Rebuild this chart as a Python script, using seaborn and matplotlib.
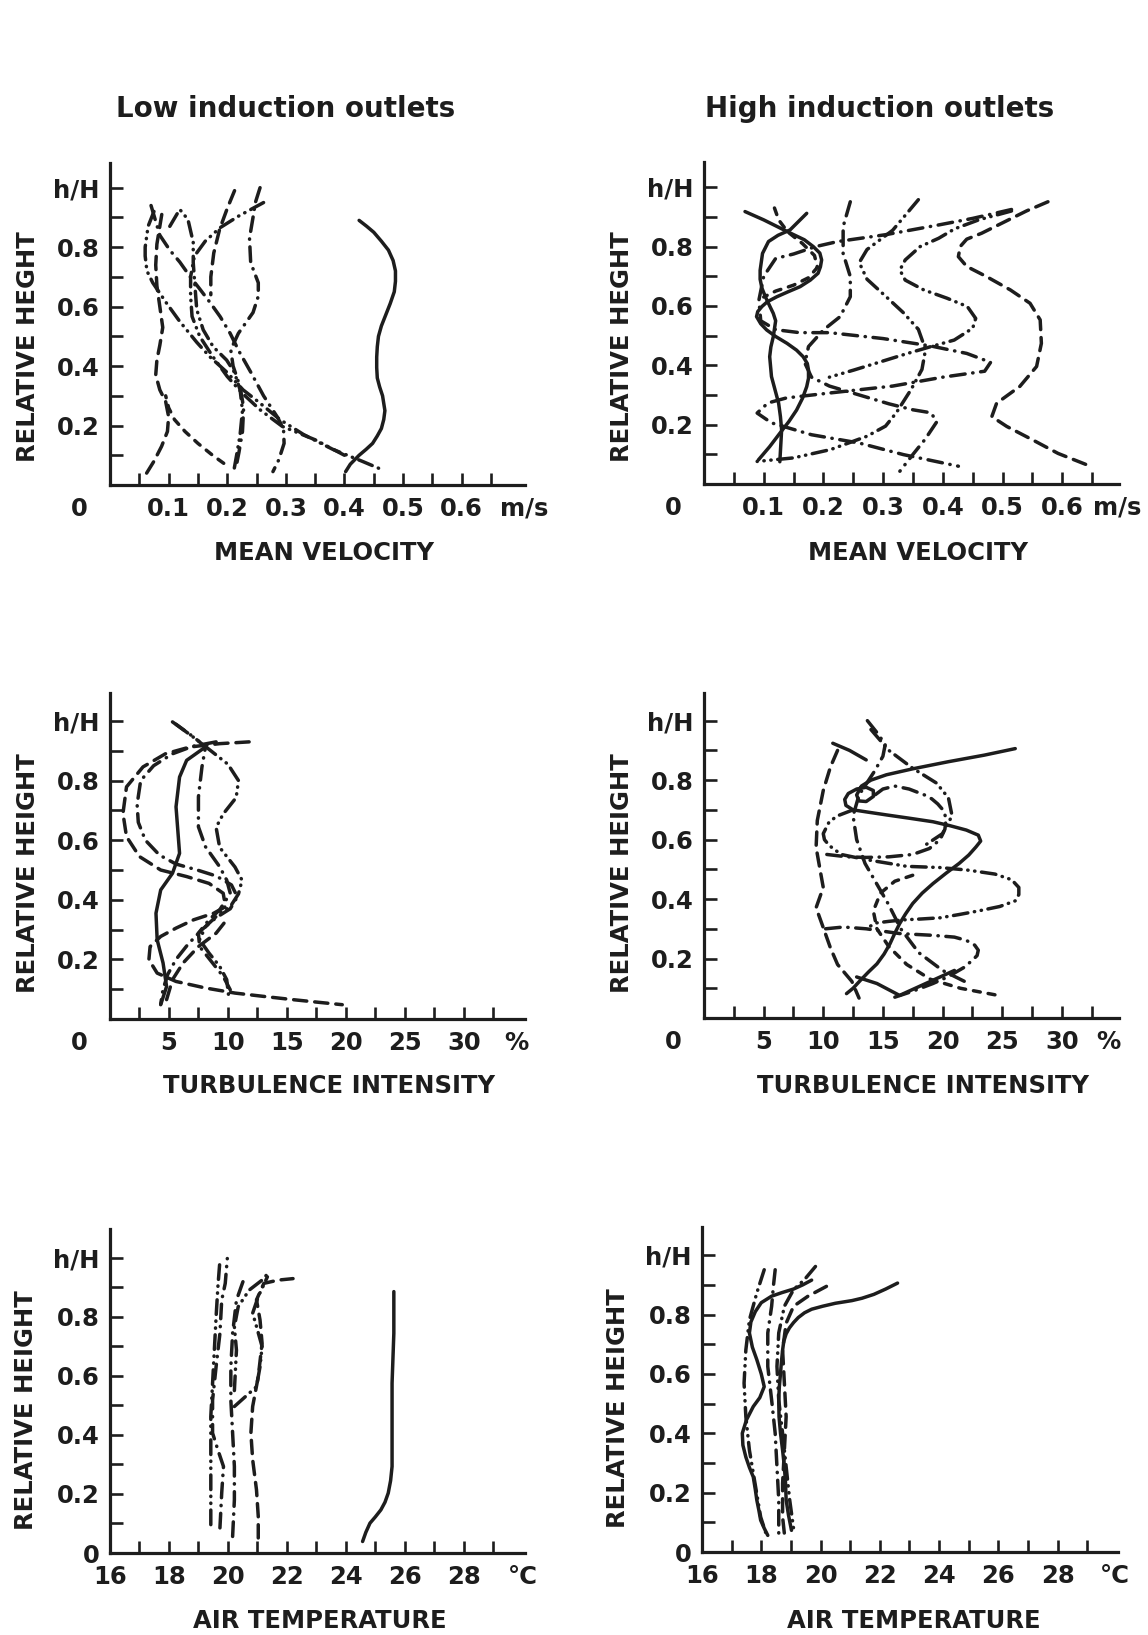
import matplotlib
matplotlib.use("Agg")
import matplotlib.pyplot as plt
import seaborn as sns
import numpy as np

# ---------------- data ----------------
H_TICKS = [0.2, 0.4, 0.6, 0.8, 1.0]
H_LABELS = ["0.2", "0.4", "0.6", "0.8", "h/H"]
H_TICKS_T = [0.0, 0.2, 0.4, 0.6, 0.8, 1.0]
H_LABELS_T = ["0", "0.2", "0.4", "0.6", "0.8", "h/H"]
H_MINOR = [0.1, 0.3, 0.5, 0.7, 0.9]

VEL_TICKS = [0.1, 0.2, 0.3, 0.4, 0.5, 0.6]
VEL_LABELS = ["0.1", "0.2", "0.3", "0.4", "0.5", "0.6"]
VEL_MINOR = [0.05, 0.15, 0.25, 0.35, 0.45, 0.55, 0.65]
TURB_TICKS = [5, 10, 15, 20, 25, 30]
TURB_LABELS = ["5", "10", "15", "20", "25", "30"]
TURB_MINOR = [2.5, 7.5, 12.5, 17.5, 22.5, 27.5, 32.5]
TEMP_TICKS = [16, 18, 20, 22, 24, 26, 28]
TEMP_LABELS = ["16", "18", "20", "22", "24", "26", "28"]
TEMP_MINOR = [17, 19, 21, 23, 25, 27, 29]

# Panel 1: low induction, mean velocity (m/s) vs h/H
p1_a_v = [0.425, 0.438, 0.45, 0.463, 0.475, 0.483, 0.487, 0.487, 0.485, 0.478, 0.47, 0.463, 0.458, 0.456, 0.455, 0.455, 0.456, 0.46, 0.465, 0.469, 0.467, 0.463, 0.456, 0.448, 0.437, 0.425, 0.41, 0.402]
p1_a_h = [0.89, 0.87, 0.85, 0.82, 0.79, 0.755, 0.72, 0.685, 0.65, 0.61, 0.57, 0.535, 0.50, 0.465, 0.43, 0.395, 0.36, 0.33, 0.30, 0.25, 0.22, 0.19, 0.165, 0.14, 0.12, 0.10, 0.07, 0.045]
p1_b_v = [0.0625, 0.075, 0.088, 0.098, 0.1, 0.095, 0.085, 0.078, 0.08, 0.085, 0.09, 0.085, 0.08, 0.078, 0.08, 0.085, 0.09]
p1_b_h = [0.04, 0.08, 0.13, 0.18, 0.23, 0.28, 0.32, 0.37, 0.42, 0.47, 0.53, 0.60, 0.67, 0.74, 0.81, 0.87, 0.93]
p1_c_v = [0.194, 0.175, 0.15, 0.128, 0.11, 0.1, 0.095]
p1_c_h = [0.073, 0.10, 0.14, 0.18, 0.22, 0.26, 0.30]
p1_d_v = [0.075, 0.065, 0.06, 0.06, 0.063, 0.073, 0.097, 0.119, 0.148, 0.171, 0.199, 0.227, 0.253, 0.29, 0.33, 0.38, 0.43, 0.466]
p1_d_h = [0.92, 0.87, 0.80, 0.77, 0.72, 0.68, 0.61, 0.55, 0.48, 0.43, 0.38, 0.32, 0.28, 0.22, 0.17, 0.12, 0.08, 0.05]
p1_e_v = [0.07, 0.085, 0.102, 0.119, 0.137, 0.154, 0.171, 0.188, 0.205, 0.22, 0.24, 0.262, 0.285, 0.296, 0.297, 0.288, 0.278]
p1_e_h = [0.94, 0.84, 0.79, 0.75, 0.70, 0.657, 0.613, 0.566, 0.51, 0.45, 0.38, 0.30, 0.23, 0.19, 0.14, 0.085, 0.045]
p1_f_v = [0.102, 0.119, 0.133, 0.142, 0.142, 0.145, 0.148, 0.159, 0.176, 0.199, 0.212, 0.222, 0.226, 0.222, 0.216, 0.212]
p1_f_h = [0.87, 0.927, 0.893, 0.816, 0.748, 0.667, 0.59, 0.522, 0.465, 0.42, 0.38, 0.32, 0.25, 0.17, 0.10, 0.056]
p1_g_v = [0.256, 0.248, 0.244, 0.238, 0.24, 0.253, 0.253, 0.244, 0.219, 0.206, 0.21, 0.222, 0.228, 0.226, 0.22, 0.215]
p1_g_h = [1.0, 0.95, 0.90, 0.83, 0.748, 0.68, 0.635, 0.58, 0.51, 0.455, 0.40, 0.33, 0.26, 0.18, 0.11, 0.06]
p1_h_v = [0.262, 0.219, 0.1875, 0.1625, 0.144, 0.1375, 0.1375, 0.14, 0.153, 0.175, 0.2, 0.225, 0.256, 0.294, 0.35, 0.40]
p1_h_h = [0.95, 0.904, 0.865, 0.82, 0.77, 0.70, 0.635, 0.567, 0.50, 0.433, 0.365, 0.31, 0.253, 0.197, 0.152, 0.10]
p1_i_v = [0.2125, 0.20, 0.187, 0.177, 0.172, 0.172]
p1_i_h = [0.99, 0.93, 0.86, 0.78, 0.70, 0.64]

# Panel 2: high induction, mean velocity
p2_a_v = [0.576, 0.54, 0.50, 0.465, 0.44, 0.429, 0.426, 0.44, 0.473, 0.513, 0.546, 0.563, 0.565, 0.557, 0.529, 0.49, 0.482, 0.507, 0.551, 0.593, 0.647]
p2_a_h = [0.951, 0.92, 0.88, 0.845, 0.825, 0.80, 0.766, 0.733, 0.699, 0.654, 0.609, 0.553, 0.474, 0.396, 0.329, 0.272, 0.227, 0.194, 0.148, 0.103, 0.06]
p2_b_v = [0.515, 0.46, 0.42, 0.393, 0.362, 0.337, 0.328, 0.337, 0.368, 0.407, 0.441, 0.455, 0.45, 0.419, 0.38, 0.341, 0.296, 0.251, 0.21]
p2_b_h = [0.92, 0.89, 0.86, 0.828, 0.80, 0.755, 0.721, 0.687, 0.654, 0.626, 0.598, 0.558, 0.525, 0.485, 0.463, 0.44, 0.412, 0.384, 0.36]
p2_c_v = [0.359, 0.316, 0.273, 0.26, 0.273, 0.304, 0.334, 0.359, 0.371, 0.365, 0.347, 0.322, 0.304, 0.273, 0.212, 0.15, 0.089]
p2_c_h = [0.958, 0.855, 0.79, 0.746, 0.69, 0.633, 0.577, 0.521, 0.453, 0.386, 0.319, 0.24, 0.195, 0.161, 0.116, 0.088, 0.076]
p2_d_v = [0.515, 0.45, 0.396, 0.304, 0.224, 0.187, 0.15, 0.12, 0.10, 0.092, 0.095, 0.12, 0.16, 0.21, 0.30, 0.38, 0.44, 0.48, 0.47, 0.40, 0.316, 0.212, 0.138, 0.107, 0.089, 0.113, 0.18, 0.26, 0.334, 0.426]
p2_d_h = [0.925, 0.895, 0.874, 0.84, 0.817, 0.80, 0.775, 0.76, 0.70, 0.62, 0.55, 0.52, 0.51, 0.51, 0.49, 0.465, 0.44, 0.41, 0.38, 0.36, 0.33, 0.307, 0.29, 0.273, 0.239, 0.206, 0.166, 0.138, 0.099, 0.06]
p2_e_v = [0.0687, 0.10, 0.144, 0.168, 0.183, 0.194, 0.197, 0.195, 0.191, 0.178, 0.161, 0.14, 0.122, 0.106, 0.097, 0.09, 0.088, 0.095, 0.105, 0.12, 0.139, 0.155, 0.166, 0.173, 0.175, 0.175, 0.172, 0.165, 0.155, 0.142, 0.127, 0.11, 0.091]
p2_e_h = [0.918, 0.89, 0.846, 0.823, 0.80, 0.778, 0.755, 0.732, 0.71, 0.687, 0.665, 0.647, 0.631, 0.614, 0.598, 0.581, 0.564, 0.54, 0.519, 0.497, 0.474, 0.451, 0.429, 0.406, 0.384, 0.356, 0.328, 0.289, 0.249, 0.21, 0.171, 0.126, 0.081]
p2_f_v = [0.127, 0.13, 0.128, 0.125, 0.119, 0.113, 0.11, 0.112, 0.116, 0.12, 0.116, 0.11, 0.103, 0.097, 0.094, 0.094, 0.098, 0.108, 0.124, 0.144, 0.158, 0.172]
p2_f_h = [0.075, 0.182, 0.227, 0.272, 0.317, 0.362, 0.429, 0.462, 0.496, 0.55, 0.575, 0.60, 0.63, 0.66, 0.69, 0.72, 0.777, 0.817, 0.838, 0.856, 0.884, 0.912]
p2_g_v = [0.245, 0.233, 0.233, 0.245, 0.245, 0.228, 0.2, 0.175, 0.169, 0.18, 0.21, 0.26, 0.31, 0.35, 0.38, 0.39, 0.37, 0.35, 0.328]
p2_g_h = [0.951, 0.867, 0.777, 0.699, 0.631, 0.564, 0.519, 0.463, 0.407, 0.36, 0.33, 0.30, 0.27, 0.25, 0.24, 0.21, 0.15, 0.10, 0.043]
p2_h_v = [0.118, 0.125, 0.14, 0.165, 0.185, 0.19, 0.175, 0.15, 0.12, 0.1]
p2_h_h = [0.93, 0.89, 0.85, 0.81, 0.77, 0.73, 0.695, 0.67, 0.65, 0.63]

# Panel 3: low induction, turbulence intensity (%)
p3_a_t = [11.8, 9.3, 6.8, 4.7, 2.8, 1.4, 1.1, 1.4, 2.5, 4.3, 6.5, 8.4, 9.6, 9.8, 8.8, 7.1, 5.6, 4.3, 3.4, 3.3, 4.0, 5.6, 8.1, 10.6, 13.0, 15.5, 17.7, 19.7]
p3_a_h = [0.93, 0.924, 0.913, 0.89, 0.846, 0.779, 0.69, 0.612, 0.545, 0.50, 0.478, 0.455, 0.422, 0.377, 0.355, 0.333, 0.305, 0.277, 0.243, 0.199, 0.154, 0.126, 0.104, 0.087, 0.076, 0.065, 0.056, 0.048]
p3_b_t = [9.0, 7.0, 5.3, 3.7, 2.6, 2.3, 2.4, 3.0, 4.2, 5.6, 7.4, 9.0, 10.3, 10.8, 10.2, 9.0, 7.8, 6.6, 5.6, 4.9, 4.5, 4.3]
p3_b_h = [0.93, 0.915, 0.89, 0.85, 0.80, 0.72, 0.66, 0.60, 0.55, 0.52, 0.50, 0.48, 0.45, 0.41, 0.37, 0.34, 0.30, 0.25, 0.20, 0.15, 0.10, 0.05]
p3_c_t = [8.1, 6.5, 5.9, 5.6, 5.75, 5.9, 5.3, 4.3, 3.9, 4.0, 4.5, 4.8, 4.3]
p3_c_h = [0.913, 0.868, 0.812, 0.712, 0.634, 0.556, 0.489, 0.433, 0.355, 0.266, 0.188, 0.109, 0.048]
p3_d_t = [5.6, 7.5, 10.0, 10.9, 10.7, 9.6, 9.0, 9.3, 10.6, 11.2, 10.9, 10.2, 9.3, 8.1, 7.6, 8.4, 9.3, 9.9, 10.1]
p3_d_h = [0.989, 0.933, 0.855, 0.80, 0.743, 0.688, 0.643, 0.576, 0.51, 0.466, 0.42, 0.377, 0.355, 0.31, 0.266, 0.221, 0.177, 0.132, 0.065]
p3_e_t = [5.3, 7.1, 8.1, 7.8, 7.5, 7.5, 8.1, 9.3, 9.9, 10.2, 9.3, 8.4, 7.5, 7.6, 8.7, 9.6, 10.2]
p3_e_h = [0.997, 0.946, 0.913, 0.846, 0.745, 0.645, 0.578, 0.511, 0.466, 0.422, 0.366, 0.333, 0.288, 0.243, 0.188, 0.143, 0.098]
p3_f_t = [4.8, 5.3, 6.2, 7.5, 9.0, 9.9]
p3_f_h = [0.065, 0.132, 0.188, 0.243, 0.288, 0.333]

# Panel 4: high induction, turbulence intensity (%)
p4_a_t = [11.95, 12.5, 13.1, 13.8, 14.5, 15.1, 15.6, 16.0, 16.4, 16.9, 17.5, 18.3, 19.2, 20.3, 21.4, 22.2, 22.8, 23.2, 23.0, 22.0, 20.6, 19.2, 17.2, 15.3, 13.8, 12.5, 11.9, 11.8, 12.1, 12.8, 13.6, 14.2, 14.2, 13.6, 13.0, 12.8, 13.2, 14.0, 15.3, 17.5, 20.5, 23.5, 26.1]
p4_a_h = [0.082, 0.10, 0.126, 0.155, 0.182, 0.215, 0.25, 0.285, 0.317, 0.35, 0.385, 0.42, 0.452, 0.487, 0.52, 0.548, 0.575, 0.595, 0.615, 0.632, 0.647, 0.66, 0.672, 0.683, 0.692, 0.70, 0.715, 0.735, 0.755, 0.77, 0.776, 0.765, 0.745, 0.728, 0.73, 0.75, 0.78, 0.80, 0.818, 0.838, 0.862, 0.884, 0.906]
p4_b_t = [12.5, 11.2, 10.5, 10.0, 10.1, 10.5, 11.5, 12.7, 14.0, 15.5, 17.0, 18.4, 19.8, 22.2, 24.4, 25.8, 26.4, 26.4, 26.1, 24.8, 23.0, 21.4, 19.8, 18.2, 16.7, 15.5, 14.5, 13.5]
p4_b_h = [0.70, 0.68, 0.66, 0.62, 0.60, 0.58, 0.55, 0.54, 0.53, 0.52, 0.51, 0.508, 0.506, 0.497, 0.484, 0.465, 0.439, 0.415, 0.394, 0.375, 0.36, 0.348, 0.337, 0.333, 0.33, 0.325, 0.32, 0.30]
p4_c_t = [10.2, 11.7, 13.6, 16.4, 19.2, 21.0, 22.0, 22.7, 23.0, 22.9, 22.5, 21.8, 20.9, 20.1, 19.2, 17.5, 16.0]
p4_c_h = [0.30, 0.306, 0.30, 0.284, 0.278, 0.272, 0.261, 0.245, 0.228, 0.21, 0.194, 0.17, 0.149, 0.132, 0.116, 0.09, 0.07]
p4_d_t = [10.3, 12.0, 13.6, 15.5, 17.5, 18.9, 19.8, 20.2, 20.3, 20.1, 19.6, 19.1, 18.5, 17.2, 16.0, 15.0, 14.0]
p4_d_h = [0.55, 0.542, 0.54, 0.542, 0.55, 0.57, 0.60, 0.635, 0.67, 0.697, 0.72, 0.737, 0.75, 0.77, 0.78, 0.77, 0.74]
p4_e_t = [11.2, 10.6, 10.0, 9.5, 9.4, 9.7, 10.0, 9.4, 10.0, 10.6, 11.2, 12.4, 13.0]
p4_e_h = [0.90, 0.844, 0.765, 0.664, 0.574, 0.506, 0.439, 0.371, 0.304, 0.236, 0.18, 0.123, 0.067]
p4_f_t = [14.0, 15.5, 17.5, 19.5, 20.5, 20.8, 20.0, 18.5]
p4_f_h = [0.97, 0.90, 0.84, 0.79, 0.74, 0.68, 0.62, 0.58]
p4_g_t = [13.7, 14.5, 15.2, 15.0, 14.3, 13.0, 12.5, 12.8, 13.5, 14.5, 15.5, 16.5, 18.0, 20.0, 22.0]
p4_g_h = [1.0, 0.96, 0.92, 0.88, 0.83, 0.75, 0.68, 0.60, 0.52, 0.45, 0.38, 0.30, 0.22, 0.16, 0.12]
p4_h_t = [17.5, 16.0, 14.8, 14.2, 14.5, 15.5, 17.0, 19.0, 21.5, 24.4]
p4_h_h = [0.48, 0.46, 0.42, 0.36, 0.30, 0.24, 0.18, 0.13, 0.10, 0.078]
p4_i_t = [10.8, 12.2, 13.6]
p4_i_h = [0.924, 0.90, 0.868]
p4_j_t = [12.8, 14.5, 16.4, 19.8, 21.0]
p4_j_h = [0.138, 0.116, 0.076, 0.138, 0.16]

# Panel 5: low induction, air temperature (deg C)
p5_a_c = [25.63, 25.63, 25.57, 25.57, 25.57, 25.52, 25.44, 25.33, 25.19, 25.0, 24.82, 24.68, 24.57]
p5_a_h = [0.885, 0.744, 0.575, 0.406, 0.293, 0.245, 0.203, 0.172, 0.146, 0.122, 0.101, 0.07, 0.039]
p5_b_c = [21.03, 21.03, 20.97, 20.84, 20.78, 20.84, 21.03, 21.16, 21.09, 20.97, 21.22, 21.71, 22.21]
p5_b_h = [0.051, 0.124, 0.214, 0.316, 0.406, 0.496, 0.597, 0.71, 0.789, 0.857, 0.913, 0.924, 0.929]
p5_c_c = [19.42, 19.42, 19.42, 19.42, 19.48, 19.54, 19.60, 19.66, 19.73]
p5_c_h = [0.096, 0.203, 0.315, 0.462, 0.575, 0.687, 0.80, 0.901, 0.991]
p5_d_c = [19.73, 19.79, 19.85, 19.66, 19.48, 19.48, 19.60, 19.73, 19.79, 19.91, 19.98]
p5_d_h = [0.085, 0.203, 0.293, 0.349, 0.406, 0.518, 0.631, 0.744, 0.856, 0.913, 0.997]
p5_e_c = [20.16, 20.22, 20.22, 20.16, 20.1, 20.1, 20.16, 20.29, 20.53]
p5_e_h = [0.056, 0.18, 0.293, 0.406, 0.518, 0.631, 0.744, 0.856, 0.924]
p5_f_c = [20.22, 20.6, 20.97, 21.09, 21.16, 20.97, 20.84, 21.03, 21.34]
p5_f_h = [0.496, 0.53, 0.563, 0.631, 0.699, 0.767, 0.812, 0.868, 0.935]
p5_g_c = [20.22, 20.29, 20.22, 20.35, 20.72, 21.16, 21.3]
p5_g_h = [0.55, 0.687, 0.766, 0.834, 0.89, 0.924, 0.94]

# Panel 6: high induction, air temperature
p6_a_c = [22.6, 22.2, 21.8, 21.4, 21.06, 20.5, 20.07, 19.7, 19.46, 19.25, 19.09, 18.95, 18.84, 18.76, 18.72, 18.68, 18.65, 18.61, 18.59, 18.6, 18.65, 18.72, 18.78, 18.82, 18.84, 18.92, 19.02]
p6_a_h = [0.906, 0.886, 0.868, 0.855, 0.847, 0.838, 0.828, 0.818, 0.806, 0.79, 0.773, 0.755, 0.735, 0.71, 0.68, 0.64, 0.602, 0.557, 0.512, 0.456, 0.40, 0.343, 0.287, 0.231, 0.175, 0.124, 0.073]
p6_b_c = [19.7, 19.4, 19.09, 18.7, 18.35, 18.0, 17.8, 17.65, 17.6, 17.7, 17.85, 18.0, 18.1, 17.95, 17.73, 17.5, 17.36, 17.38, 17.48, 17.6, 17.73, 17.8, 17.85, 17.92, 17.98, 18.1, 18.22]
p6_b_h = [0.916, 0.9, 0.886, 0.874, 0.862, 0.84, 0.81, 0.775, 0.738, 0.69, 0.648, 0.60, 0.557, 0.52, 0.49, 0.445, 0.40, 0.36, 0.32, 0.285, 0.253, 0.21, 0.175, 0.14, 0.107, 0.08, 0.056]
p6_c_c = [18.1, 17.85, 17.6, 17.48, 17.42, 17.48, 17.6, 17.79, 17.98, 18.16]
p6_c_h = [0.951, 0.873, 0.782, 0.681, 0.569, 0.456, 0.343, 0.231, 0.118, 0.062]
p6_d_c = [18.47, 18.41, 18.35, 18.22, 18.22, 18.35, 18.47, 18.53, 18.59, 18.59]
p6_d_h = [0.951, 0.896, 0.828, 0.738, 0.625, 0.512, 0.40, 0.287, 0.175, 0.062]
p6_e_c = [19.83, 19.46, 19.09, 18.78, 18.59, 18.53, 18.59, 18.72, 18.84, 18.96, 19.09]
p6_e_h = [0.962, 0.918, 0.884, 0.828, 0.738, 0.625, 0.512, 0.40, 0.287, 0.175, 0.079]
p6_f_c = [20.2, 19.58, 19.09, 18.84, 18.72, 18.78, 18.84, 18.78, 18.72, 18.72, 18.78]
p6_f_h = [0.895, 0.862, 0.828, 0.771, 0.681, 0.569, 0.456, 0.343, 0.231, 0.118, 0.062]

# ---------------- styling ----------------
sns.set_style("ticks")
plt.rcParams["font.family"] = ["DejaVu Sans"]
plt.rcParams["font.weight"] = "bold"

W, H = 1148, 1635
INK = "#1d1d1d"
LW = 2.5
TICK_FS = 17.5
LABEL_FS = 17.5
LS = {
    "solid": "-",
    "dash": (0, (3.8, 2.3)),
    "sdash": (0, (2.0, 2.3)),
    "dashdot": (0, (4.2, 2.2, 0.1, 2.2)),
    "dashdotdot": (0, (4.2, 1.9, 0.1, 1.9, 0.1, 1.9)),
}

fig = plt.figure(figsize=(W / 100, H / 100), dpi=100)
fig.patch.set_facecolor("white")


def px_axes(left, bottom, width, height):
    return fig.add_axes([left / W, 1 - bottom / H, width / W, height / H])


def style_axes(ax, xlim, ylim, xt, xl, xm, yt, yl, unit, unit_x, zero_x):
    ax.set_xlim(*xlim)
    ax.set_ylim(*ylim)
    ax.set_xticks(xt)
    ax.set_xticklabels(xl)
    ax.set_xticks(xm, minor=True)
    ax.set_yticks(yt)
    ax.set_yticklabels(yl)
    ax.set_yticks(H_MINOR, minor=True)
    for s in ["top", "right"]:
        ax.spines[s].set_visible(False)
    for s in ["left", "bottom"]:
        ax.spines[s].set_linewidth(2.3)
        ax.spines[s].set_color(INK)
    ax.tick_params(axis="both", which="both", direction="in", length=9,
                   width=1.9, color=INK, labelcolor=INK)
    ax.tick_params(axis="x", which="major", pad=8.5, labelsize=TICK_FS)
    ax.tick_params(axis="y", which="major", pad=7.5, labelsize=TICK_FS)
    for lab in ax.get_xticklabels() + ax.get_yticklabels():
        lab.set_fontweight("bold")
    ax.set_xlabel("")
    ax.set_ylabel("")
    ax.grid(False)
    ax.annotate(unit, xy=(unit_x, 0), xycoords=("data", "axes fraction"),
                xytext=(0, -11.8), textcoords="offset pixels",
                ha="center", va="top", fontsize=TICK_FS, fontweight="bold", color=INK)
    if zero_x is not None:
        ax.annotate("0", xy=(0, 0), xycoords="axes fraction",
                    xytext=(zero_x, -11.8), textcoords="offset pixels",
                    ha="center", va="top", fontsize=TICK_FS, fontweight="bold", color=INK)


def draw(ax, x, y, kind):
    sns.lineplot(x=x, y=y, ax=ax, sort=False, estimator=None, color=INK,
                 linewidth=LW, linestyle=LS[kind], dash_capstyle="round",
                 solid_capstyle="round", solid_joinstyle="round", legend=False)


# ---- Panel 1 ----
ax1 = px_axes(110, 485, 415, 322)
for x, y, k in [(p1_a_v, p1_a_h, "solid"), (p1_b_v, p1_b_h, "dash"), (p1_c_v, p1_c_h, "sdash"),
                (p1_d_v, p1_d_h, "dashdotdot"), (p1_e_v, p1_e_h, "dashdot"), (p1_f_v, p1_f_h, "dashdotdot"),
                (p1_g_v, p1_g_h, "dashdot"), (p1_h_v, p1_h_h, "dashdotdot"), (p1_i_v, p1_i_h, "dash")]:
    draw(ax1, x, y, k)
style_axes(ax1, (0, 0.708), (0, 1.083), VEL_TICKS, VEL_LABELS, VEL_MINOR,
           H_TICKS, H_LABELS, "m/s", 0.706, -31)

# ---- Panel 2 ----
ax2 = px_axes(704, 484, 415, 322)
for x, y, k in [(p2_a_v, p2_a_h, "dash"), (p2_b_v, p2_b_h, "dashdotdot"), (p2_c_v, p2_c_h, "dashdotdot"),
                (p2_d_v, p2_d_h, "dashdot"), (p2_e_v, p2_e_h, "solid"), (p2_f_v, p2_f_h, "solid"),
                (p2_g_v, p2_g_h, "dashdot"), (p2_h_v, p2_h_h, "sdash")]:
    draw(ax2, x, y, k)
style_axes(ax2, (0, 0.695), (0, 1.085), VEL_TICKS, VEL_LABELS, VEL_MINOR,
           H_TICKS, H_LABELS, "m/s", 0.692, -31)

# ---- Panel 3 ----
ax3 = px_axes(110, 1019, 415, 326)
for x, y, k in [(p3_a_t, p3_a_h, "dash"), (p3_b_t, p3_b_h, "dashdot"), (p3_c_t, p3_c_h, "solid"),
                (p3_d_t, p3_d_h, "dashdotdot"), (p3_e_t, p3_e_h, "dashdot"), (p3_f_t, p3_f_h, "dash")]:
    draw(ax3, x, y, k)
style_axes(ax3, (0, 35.2), (0, 1.094), TURB_TICKS, TURB_LABELS, TURB_MINOR,
           H_TICKS, H_LABELS, "%", 34.5, -31)

# ---- Panel 4 ----
ax4 = px_axes(704, 1018, 415, 325)
for x, y, k in [(p4_a_t, p4_a_h, "solid"), (p4_b_t, p4_b_h, "dashdotdot"), (p4_c_t, p4_c_h, "dashdot"),
                (p4_d_t, p4_d_h, "dashdot"), (p4_e_t, p4_e_h, "dash"), (p4_f_t, p4_f_h, "dashdotdot"),
                (p4_g_t, p4_g_h, "dashdot"), (p4_h_t, p4_h_h, "sdash"), (p4_i_t, p4_i_h, "solid"),
                (p4_j_t, p4_j_h, "solid")]:
    draw(ax4, x, y, k)
style_axes(ax4, (0, 34.8), (0, 1.093), TURB_TICKS, TURB_LABELS, TURB_MINOR,
           H_TICKS, H_LABELS, "%", 33.9, -31)

# ---- Panel 5 ----
ax5 = px_axes(110, 1553, 415, 324)
for x, y, k in [(p5_a_c, p5_a_h, "solid"), (p5_b_c, p5_b_h, "dash"), (p5_c_c, p5_c_h, "dashdotdot"),
                (p5_d_c, p5_d_h, "dashdot"), (p5_e_c, p5_e_h, "dashdot"), (p5_f_c, p5_f_h, "dashdotdot"),
                (p5_g_c, p5_g_h, "dashdotdot")]:
    draw(ax5, x, y, k)
style_axes(ax5, (16, 30.08), (0, 1.097), TEMP_TICKS, TEMP_LABELS, TEMP_MINOR,
           H_TICKS_T, H_LABELS_T, "°C", 30.0, None)

# ---- Panel 6 ----
ax6 = px_axes(702, 1552, 416, 325)
for x, y, k in [(p6_a_c, p6_a_h, "solid"), (p6_b_c, p6_b_h, "solid"), (p6_c_c, p6_c_h, "dashdotdot"),
                (p6_d_c, p6_d_h, "dashdot"), (p6_e_c, p6_e_h, "dashdotdot"), (p6_f_c, p6_f_h, "dash")]:
    draw(ax6, x, y, k)
style_axes(ax6, (16, 30.04), (0, 1.095), TEMP_TICKS, TEMP_LABELS, TEMP_MINOR,
           H_TICKS_T, H_LABELS_T, "°C", 29.95, None)


# ---------------- titles and axis labels ----------------
def ftext(x, y, s, size, **kw):
    fig.text(x / W, 1 - y / H, s, fontsize=size, fontweight="bold", color=INK, **kw)


ftext(286, 117, "Low induction outlets", 20, ha="center", va="baseline")
ftext(880, 117, "High induction outlets", 20, ha="center", va="baseline")

ftext(324, 560, "MEAN VELOCITY", LABEL_FS, ha="center", va="baseline")
ftext(918, 560, "MEAN VELOCITY", LABEL_FS, ha="center", va="baseline")
ftext(329, 1093, "TURBULENCE INTENSITY", LABEL_FS, ha="center", va="baseline")
ftext(923, 1093, "TURBULENCE INTENSITY", LABEL_FS, ha="center", va="baseline")
ftext(320, 1628, "AIR TEMPERATURE", LABEL_FS, ha="center", va="baseline")
ftext(914, 1628, "AIR TEMPERATURE", LABEL_FS, ha="center", va="baseline")

for (x, y, s) in [(35, 347, "RELATIVE HEGHT"), (629, 347, "RELATIVE HEGHT"),
                  (35, 873, "RELATIVE HEIGHT"), (629, 873, "RELATIVE HEIGHT"),
                  (33, 1410, "RELATIVE HEIGHT"), (625, 1408, "RELATIVE HEIGHT")]:
    ftext(x, y, s, LABEL_FS, ha="center", va="baseline", rotation=90, rotation_mode="anchor")

fig.savefig("out.png", dpi=100, facecolor="white")
